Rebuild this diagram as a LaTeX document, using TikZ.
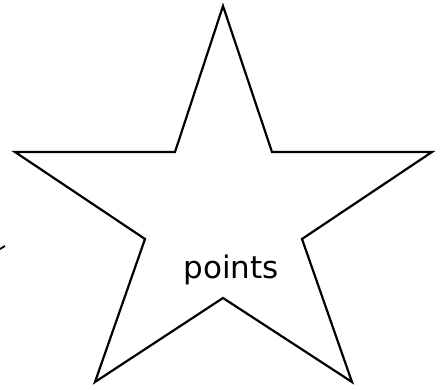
\documentclass[tikz,border=0pt]{standalone}
\usepackage{fontspec}
\setmainfont{DejaVu Sans}
\begin{document}
\begin{tikzpicture}[x=1pt,y=-1pt,
  starline/.style={draw=black,line width=2.2pt,line join=miter,fill=white},
  lbl/.style={font=\fontsize{31}{36}\selectfont,text=black,inner sep=0pt}]
\useasboundingbox (0,0) rectangle (440,390);
\clip (0,0) rectangle (440,390);
\coordinate (p1) at (223,6);
\coordinate (p2) at (272,152);
\coordinate (p3) at (432,152);
\coordinate (p4) at (302,239);
\coordinate (p5) at (352,382);
\coordinate (p6) at (223,298);
\coordinate (p7) at (95,382);
\coordinate (p8) at (145,239);
\coordinate (p9) at (15,152);
\coordinate (p10) at (175,152);
\path[starline] (p1) -- (p2) -- (p3) -- (p4) -- (p5) -- (p6) -- (p7) -- (p8) -- (p9) -- (p10) -- cycle;
\node[lbl] (t) at (231,270) {points};
\coordinate (m1) at (5,246);
\coordinate (m2) at (-5,252);
\draw[line width=1.8pt] (m1) -- (m2);
\end{tikzpicture}
\end{document}
